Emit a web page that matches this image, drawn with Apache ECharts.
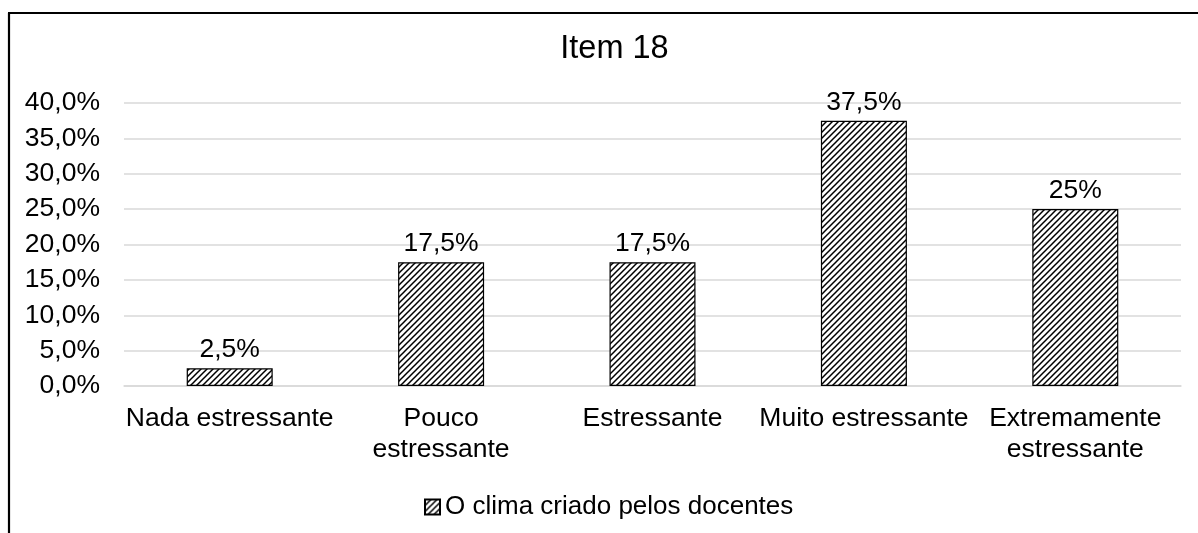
<!DOCTYPE html>
<html>
<head>
<meta charset="utf-8">
<script src="https://cdn.jsdelivr.net/npm/echarts@6/dist/echarts.min.js"></script>
<style>
  html, body { margin: 0; padding: 0; background: #fff; }
  #chart { width: 1198px; height: 533px; }
</style>
</head>
<body>
<div id="chart"></div>
<script>
// dados do gráfico
var categories = ['Nada estressante', 'Pouco\nestressante', 'Estressante', 'Muito estressante', 'Extremamente\nestressante'];
var values = [2.5, 17.5, 17.5, 37.5, 25];
var seriesName = 'O clima criado pelos docentes';
var chartTitle = 'Item 18';

// padrão de hachura diagonal
function hatch() {
    var c = document.createElement('canvas');
    c.width = 6; c.height = 6;
    var ctx = c.getContext('2d');
    ctx.fillStyle = '#fff';
    ctx.fillRect(0, 0, 6, 6);
    ctx.strokeStyle = '#000';
    ctx.lineWidth = 1.5;
    ctx.beginPath();
    ctx.moveTo(-1, 7); ctx.lineTo(7, -1);
    ctx.moveTo(-4, 4); ctx.lineTo(4, -4);
    ctx.moveTo(2, 10); ctx.lineTo(10, 2);
    ctx.stroke();
    return c;
}

var font = 'Liberation Sans, Arial, sans-serif';
var myChart = echarts.init(document.getElementById('chart'));

var option = {
    backgroundColor: '#fff',
    animation: false,
    title: {
        text: chartTitle,
        left: 609.5,
        top: 28,
        textAlign: 'center',
        textStyle: {fontFamily: font, fontSize: 32.5, fontWeight: 'normal', color: '#000'}
    },
    legend: {
        left: 419,
        top: 489,
        itemWidth: 15,
        itemHeight: 15,
        textStyle: {fontFamily: font, fontSize: 26, color: '#000'},
        data: [{name: seriesName, icon: 'rect'}]
    },
    grid: {left: 124, right: 17, top: 103, bottom: 147},
    xAxis: {
        type: 'category',
        data: categories,
        axisLine: {lineStyle: {color: '#d9d9d9', width: 1.5}},
        axisTick: {show: false},
        axisLabel: {
            fontFamily: font, fontSize: 26.5, color: '#000', margin: 17,
            lineHeight: 31, interval: 0
        }
    },
    yAxis: {
        type: 'value',
        min: 0,
        max: 40,
        interval: 5,
        axisLine: {show: false},
        axisTick: {show: false},
        splitLine: {lineStyle: {color: '#d9d9d9', width: 1.5}},
        axisLabel: {
            fontFamily: font, fontSize: 26.5, color: '#000', margin: 24,
            formatter: function (v) { return v.toFixed(1).replace('.', ',') + '%'; }
        }
    },
    series: [{
        name: seriesName,
        type: 'bar',
        barWidth: 86,
        data: values,
        itemStyle: {
            color: {image: hatch(), repeat: 'repeat'},
            borderColor: '#000',
            borderWidth: 1.2
        },
        label: {
            show: true,
            position: 'top',
            distance: 5,
            fontFamily: font,
            fontSize: 26.5,
            color: '#000',
            formatter: function (p) {
                var v = p.value;
                return (v % 1 ? String(v).replace('.', ',') : String(v)) + '%';
            }
        }
    }],
    graphic: [
        {type: 'line', shape: {x1: 9, y1: 13, x2: 9, y2: 533}, style: {stroke: '#000', lineWidth: 2.2}},
        {type: 'line', shape: {x1: 8, y1: 13, x2: 1198, y2: 13}, style: {stroke: '#000', lineWidth: 2.2}}
    ]
};

myChart.setOption(option);
</script>
</body>
</html>
